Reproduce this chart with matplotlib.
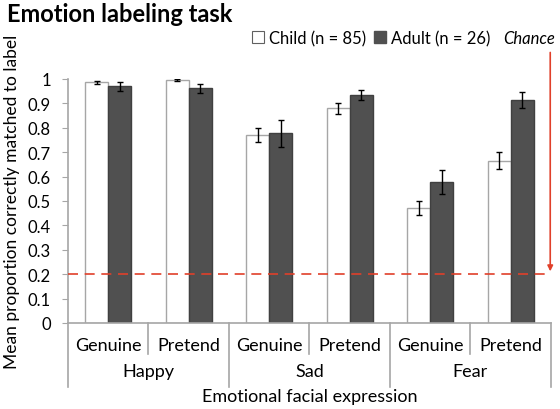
import matplotlib
matplotlib.use('Agg')
import matplotlib.pyplot as plt
import numpy as np
from matplotlib.patches import Patch

# data
conditions = ['Genuine', 'Pretend', 'Genuine', 'Pretend', 'Genuine', 'Pretend']
emotions = ['Happy', 'Sad', 'Fear']
child_mean = [0.986, 0.996, 0.770, 0.880, 0.470, 0.665]
child_err = [0.005, 0.003, 0.027, 0.022, 0.029, 0.036]
adult_mean = [0.970, 0.962, 0.777, 0.934, 0.577, 0.913]
adult_err = [0.018, 0.019, 0.055, 0.022, 0.050, 0.033]
chance_level = 0.2

FONT = ['Lato', 'DejaVu Sans']
GRAY = '#a6a6a6'
DARK = '#505050'
RED = '#e0402a'

plt.rcParams['font.family'] = FONT

fig = plt.figure(figsize=(5.6, 4.1), dpi=100)
ax = fig.add_axes([0.121, 0.21, 0.863, 0.595])

x = np.arange(len(conditions))
w = 0.285
ax.bar(x - w / 2, child_mean, w, color='white', edgecolor=GRAY, linewidth=1.0, zorder=2)
ax.bar(x + w / 2, adult_mean, w, color=DARK, edgecolor='#404040', linewidth=1.0, zorder=2)
ax.errorbar(x - w / 2, child_mean, yerr=child_err, fmt='none', ecolor='black', elinewidth=1, capsize=2, capthick=1, zorder=3)
ax.errorbar(x + w / 2, adult_mean, yerr=adult_err, fmt='none', ecolor='black', elinewidth=1, capsize=2, capthick=1, zorder=3)

ax.axhline(chance_level, color=RED, linestyle=(0, (6, 4)), linewidth=1.2, zorder=4)

ax.set_xlim(-0.5, len(conditions) - 0.5)
ax.set_ylim(0, 1.0)
ax.set_yticks(np.arange(0, 1.01, 0.1))
ax.set_yticklabels(['0'] + ['{0:.1f}'.format(v) for v in np.arange(0.1, 0.95, 0.1)] + ['1'])
ax.tick_params(axis='y', length=4, color=GRAY, labelsize=12, pad=8)
ax.set_xticks([])

for s in ['top', 'right']:
    ax.spines[s].set_visible(False)
for s in ['left', 'bottom']:
    ax.spines[s].set_color(GRAY)
    ax.spines[s].set_linewidth(1.2)

trans = ax.get_xaxis_transform()
# separators under the axis
for i in range(len(conditions) + 1):
    xb = i - 0.5
    low = -0.262 if i % 2 == 0 else -0.127
    ax.plot([xb, xb], [0, low], color=GRAY, linewidth=1.2, transform=trans, clip_on=False)
for i, c in enumerate(conditions):
    ax.text(i, -0.09, c, transform=trans, ha='center', va='center', fontsize=13)
for j, e in enumerate(emotions):
    ax.text(2 * j + 0.5, -0.197, e, transform=trans, ha='center', va='center', fontsize=13)
ax.text(2.5, -0.30, 'Emotional facial expression', transform=trans, ha='center', va='center', fontsize=13)

ax.set_ylabel('Mean proportion correctly matched to label', fontsize=12.5, labelpad=6)

# chance arrow
ax.annotate('', xy=(5.49, chance_level), xytext=(5.49, 1.12),
            arrowprops=dict(arrowstyle='-|>', color=RED, lw=1.2, mutation_scale=8),
            annotation_clip=False)
fig.text(0.944, 0.905, 'Chance', style='italic', fontsize=12, ha='center', va='center')

fig.text(0.012, 0.965, 'Emotion labeling task', fontsize=17, fontweight='bold', ha='left', va='center')

handles = [Patch(facecolor='white', edgecolor='#606060', linewidth=0.8),
           Patch(facecolor=DARK, edgecolor=DARK)]
fig.legend(handles, ['Child (n = 85)', 'Adult (n = 26)'], loc='center left', bbox_to_anchor=(0.45, 0.905),
           ncol=2, frameon=False, fontsize=12, handlelength=0.7, handleheight=0.7,
           handletextpad=0.3, columnspacing=0.5, borderpad=0, borderaxespad=0)

plt.savefig('out.png', dpi=100)
